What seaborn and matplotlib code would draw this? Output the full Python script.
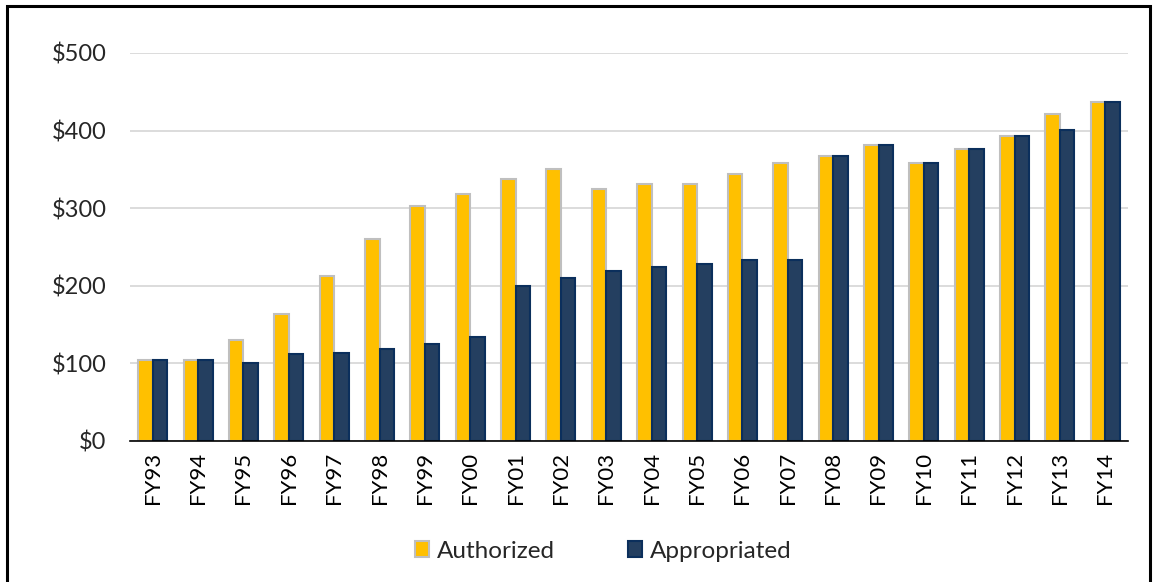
import matplotlib
matplotlib.use("Agg")
import matplotlib.pyplot as plt
from matplotlib.patches import Rectangle, Patch
from matplotlib.ticker import FuncFormatter
import seaborn as sns
import pandas as pd

years = ['FY93', 'FY94', 'FY95', 'FY96', 'FY97', 'FY98', 'FY99', 'FY00', 'FY01', 'FY02', 'FY03',
         'FY04', 'FY05', 'FY06', 'FY07', 'FY08', 'FY09', 'FY10', 'FY11', 'FY12', 'FY13', 'FY14']
authorized = [104, 104, 130, 164, 212, 260, 303, 318, 338, 351, 325,
              331, 331, 344, 358, 367, 382, 358, 376, 393, 422, 437]
appropriated = [104, 104, 101, 112, 114, 118, 125, 134, 200, 210, 219,
                224, 228, 233, 233, 367, 382, 358, 376, 393, 401, 437]

df = pd.DataFrame({'year': years * 2,
                   'value': authorized + appropriated,
                   'type': ['Authorized'] * len(years) + ['Appropriated'] * len(years)})

sns.set_theme(style="white")
plt.rcParams['font.family'] = ['Lato', 'DejaVu Sans']

fig = plt.figure(figsize=(11.53, 5.82), dpi=100)
ax = fig.add_axes([130 / 1153, 1 - 441 / 582, 998 / 1153, 388 / 582])

palette = {'Authorized': '#FFC000', 'Appropriated': '#243F60'}
edges = {'Authorized': '#BFBFBF', 'Appropriated': '#0B2F5C'}
sns.barplot(data=df, x='year', y='value', hue='type', palette=palette,
            width=0.64, ax=ax, legend=False, saturation=1)

for cont, name in zip(ax.containers, ['Authorized', 'Appropriated']):
    for bar in cont:
        bar.set_edgecolor(edges[name])
        bar.set_linewidth(1.5)

ax.set_ylim(0, 500)
ax.set_yticks(range(0, 501, 100))
ax.yaxis.set_major_formatter(FuncFormatter(lambda v, p: f"${int(v)}"))
ax.grid(axis='y', color='#D9D9D9', linewidth=1.3)
ax.set_axisbelow(True)
for s in ['top', 'right', 'left']:
    ax.spines[s].set_visible(False)
ax.spines['bottom'].set_color('black')
ax.spines['bottom'].set_linewidth(1.2)
ax.tick_params(axis='y', length=0, pad=17, labelsize=17, labelcolor='#262626')
ax.tick_params(axis='x', length=0, pad=8, labelsize=16, labelcolor='black', rotation=90)
ax.set_xlabel('')
ax.set_ylabel('')

handles = [Patch(facecolor=palette[n], edgecolor=edges[n], linewidth=1.5) for n in palette]
fig.legend(handles, list(palette), loc='center', bbox_to_anchor=(603 / 1153, 1 - 551 / 582),
           ncol=2, frameon=False, fontsize=17.5, handlelength=0.6, handleheight=0.6,
           handletextpad=0.3, columnspacing=3.0, labelcolor='#262626')

fig.patches.append(Rectangle((6.5 / 1153, -0.1), 1143 / 1153, 1.1 - 5.5 / 582,
                             transform=fig.transFigure, fill=False,
                             edgecolor='black', linewidth=2.2))

fig.savefig('out.png', dpi=100)
